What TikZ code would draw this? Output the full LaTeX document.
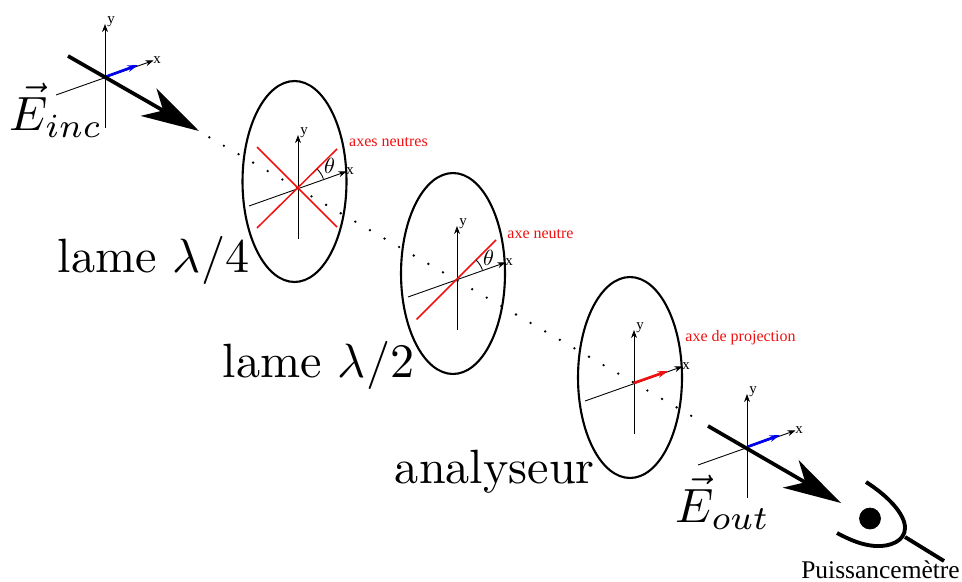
\documentclass[tikz,border=0pt]{standalone}
\usepackage{fontspec}
\usepackage{tikz}
\usetikzlibrary{arrows.meta,positioning,shapes.geometric,calc}
\newfontfamily\timesfont{Liberation Serif}
\definecolor{bleuE}{HTML}{0000F0}
\definecolor{rouge}{HTML}{F01010}
\tikzset{
  lame/.style={draw=black, ellipse, line width=1.2pt, minimum width=2.08cm, minimum height=4.02cm, inner sep=0pt},
  axe/.style={-{Stealth[length=4.6pt, width=3.4pt]}, line width=0.5pt},
  faisceau/.style={-{Stealth[length=33pt, width=18pt, inset=9.5pt]}, line width=2.1pt},
  champ/.style={-{Stealth[length=6pt, width=3.8pt]}, line width=1.5pt},
  neutre/.style={draw=rouge, line width=0.85pt},
  pointille/.style={line width=1.5pt, line cap=round, dash pattern=on 0pt off 9.6pt},
  petit/.style={font=\timesfont\fontsize{8.5}{10}\selectfont, inner sep=0pt},
  rougetxt/.style={font=\timesfont\fontsize{9.1}{11}\selectfont, text=rouge, inner sep=0pt},
  grand/.style={scale=2.74, anchor=base west, inner sep=0pt},
  angle/.style={scale=1.25, inner sep=0pt}
}
\begin{document}
\begin{tikzpicture}[x=0.02cm, y=-0.02cm]
  \useasboundingbox (0,0) rectangle (962,581);
  % centres des reperes
  \coordinate (inc) at (105,77);
  \coordinate (quart) at (298,188);
  \coordinate (demi) at (457,279);
  \coordinate (anal) at (634,383);
  \coordinate (out) at (747,447);
  % pointilles
  \coordinate (pa) at (209.3,137.3);
  \coordinate (pb) at (695,418);
  \draw[pointille] (pa) -- (pb);
  % lames
  \node[lame] (lameq) at (294.5,181.5) {};
  \node[lame] (lamed) at (453,273.5) {};
  \node[lame] (lamea) at (630,377.5) {};
  % reperes
  \foreach \nom in {inc,quart,demi,anal,out}{
    \coordinate (\nom yb) at ($(\nom)+(0,50.5)$);
    \coordinate (\nom yh) at ($(\nom)+(0,-53)$);
    \coordinate (\nom xg) at ($(\nom)+(-49,18)$);
    \coordinate (\nom xd) at ($(\nom)+(48.5,-16.5)$);
    \draw[axe] (\nom yb) -- (\nom yh);
    \draw[axe] (\nom xg) -- (\nom xd);
    \node[petit] (\nom ly) at ($(\nom)+(6,-55)$) {y};
    \node[petit] (\nom lx) at ($(\nom)+(52,-17)$) {x};
  }
  % axes neutres
  \coordinate (qa) at (257,228);
  \coordinate (qb) at (337,149);
  \coordinate (qc) at (257,147);
  \coordinate (qd) at (337,227);
  \coordinate (da) at (416.5,319.5);
  \coordinate (db) at (496,240);
  \draw[neutre] (qa) -- (qb);
  \draw[neutre] (qc) -- (qd);
  \draw[neutre] (da) -- (db);
  \draw[line width=0.5pt] (quart) ++(-20:27) arc[start angle=-20, end angle=-45, radius=27];
  \draw[line width=0.5pt] (demi) ++(-20:27) arc[start angle=-20, end angle=-45, radius=27];
  \node[angle] (tq) at (329.5,166) {$\theta$};
  \node[angle] (td) at (488.5,258) {$\theta$};
  % champs
  \coordinate (ci) at (138,65);
  \coordinate (co) at (780,435);
  \coordinate (ca) at (668,371);
  \draw[champ, draw=bleuE, bleuE] (inc) -- (ci);
  \draw[champ, draw=bleuE, bleuE] (out) -- (co);
  \draw[champ, draw=rouge, rouge] (anal) -- (ca);
  % faisceaux
  \coordinate (fa) at (68,56);
  \coordinate (fb) at (199,131);
  \coordinate (fc) at (708,426);
  \coordinate (fd) at (841,503);
  \draw[faisceau] (fa) -- (fb);
  \draw[faisceau] (fc) -- (fd);
  % oeil
  \node[draw, fill, circle, minimum size=0.42cm, inner sep=0pt] (oeil) at (870,518.5) {};
  \coordinate (oa) at (866,482);
  \coordinate (ob) at (837,533);
  \coordinate (oc) at (905,537);
  \coordinate (od) at (944,561);
  \draw[line width=2.2pt] (oa) .. controls (888,496) and (905,514) .. (905,528)
    .. controls (905,541) and (890,547) .. (875,546) .. controls (862,545) and (850,540) .. (ob);
  \draw[line width=2.2pt] (oc) -- (od);
  % textes
  \node[grand] (tlq) at (57,272) {lame $\lambda/4$};
  \node[grand] (tld) at (222,377.5) {lame $\lambda/2$};
  \node[grand] (tla) at (394,483) {analyseur};
  \node[grand] (tei) at (9,130) {$\vec{E}_{inc}$};
  \node[grand] (teo) at (675,522) {$\vec{E}_{out}$};
  \node[rougetxt] (rq) at (388.5,142) {axes neutres};
  \node[rougetxt] (rd) at (540.5,234) {axe neutre};
  \node[rougetxt] (ra) at (740.5,338) {axe de projection};
  \node[font=\timesfont\fontsize{14.5}{17}\selectfont, inner sep=0pt] (pm) at (880.5,570) {Puissancemètre};
\end{tikzpicture}
\end{document}
